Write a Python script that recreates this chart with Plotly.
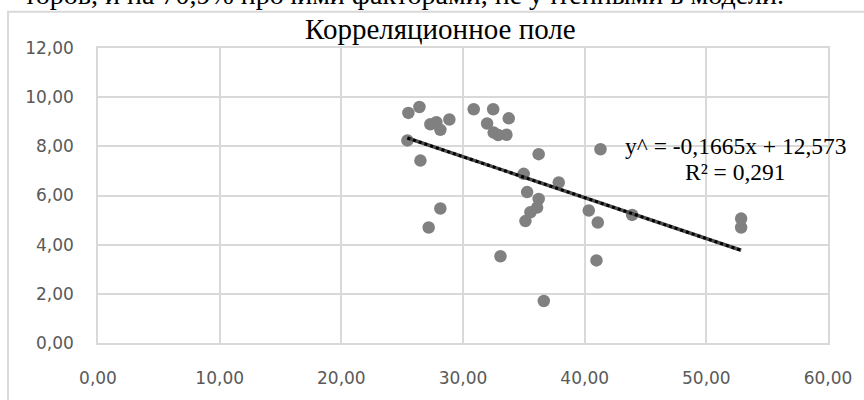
import plotly.graph_objects as go

# ---- data ----
x_values = [25.51, 26.42, 25.43, 26.50, 27.32, 27.81, 28.14, 28.88, 30.88, 32.48,
            33.76, 31.98, 32.52, 32.89, 33.57, 36.22, 41.30, 34.99, 37.87, 35.27,
            36.22, 36.09, 35.54, 35.13, 28.14, 27.18, 40.34, 41.08, 43.90, 33.08,
            40.97, 36.64, 52.86, 52.86]
y_values = [9.36, 9.60, 8.24, 7.42, 8.90, 8.98, 8.67, 9.09, 9.51, 9.51,
            9.14, 8.93, 8.56, 8.46, 8.47, 7.68, 7.88, 6.88, 6.53, 6.14,
            5.86, 5.51, 5.32, 4.96, 5.47, 4.70, 5.39, 4.90, 5.21, 3.53,
            3.36, 1.71, 5.06, 4.70]
slope = -0.1665
intercept = 12.573
r_squared = 0.291
x_ticks = [0, 10, 20, 30, 40, 50, 60]
y_ticks = [0, 2, 4, 6, 8, 10, 12]
x_tick_labels = ["0,00", "10,00", "20,00", "30,00", "40,00", "50,00", "60,00"]
y_tick_labels = ["0,00", "2,00", "4,00", "6,00", "8,00", "10,00", "12,00"]
title_text = "Корреляционное поле"
doc_text = "торов, и на 70,9% прочими факторами, не учтенными в модели."

# ---- layout geometry (pixels) ----
W, H = 864, 400
ML, MR, MT, MB = 98, 36, 48, 43
PW, PH = W - ML - MR, H - MT - MB


def px_to_paper_x(px):
    return (px - ML) / PW


def px_to_paper_y(py):
    return (H - MB - py) / PH


trend_x = [min(x_values), max(x_values)]
trend_y = [slope * v + intercept for v in trend_x]

fig = go.Figure()

fig.add_trace(go.Scatter(
    x=x_values, y=y_values, mode="markers",
    marker=dict(color="#808080", size=12.5, line=dict(width=0)),
    showlegend=False, hoverinfo="x+y",
))

fig.add_trace(go.Scatter(
    x=trend_x, y=trend_y, mode="lines",
    line=dict(color="#4d4d4d", width=3.5),
    showlegend=False, hoverinfo="skip",
))
fig.add_trace(go.Scatter(
    x=trend_x, y=trend_y, mode="lines",
    line=dict(color="#000000", width=3, dash="dot"),
    showlegend=False, hoverinfo="skip",
))

grid_color = "#d9d9d9"
axis_common = dict(
    showgrid=True, gridcolor=grid_color, gridwidth=1.5,
    zeroline=False, showline=True, linecolor=grid_color, linewidth=1.5,
    mirror=True, ticks="outside", tickcolor="rgba(0,0,0,0)",
    tickfont=dict(family="DejaVu Sans", size=17, color="#595959"),
    fixedrange=True,
)

fig.update_xaxes(range=[0, 60], tickvals=x_ticks, ticktext=x_tick_labels,
                 ticklen=19, **axis_common)
fig.update_yaxes(range=[0, 12], tickvals=y_ticks, ticktext=y_tick_labels,
                 ticklen=19, **axis_common)

eq_text = "y^ = " + f"{slope:.4f}".replace(".", ",") + "x + " + f"{intercept:.3f}".replace(".", ",")
r2_text = "R² = " + f"{r_squared:.3f}".replace(".", ",")

annotations = [
    dict(text=title_text, x=px_to_paper_x(440), y=px_to_paper_y(28),
         xref="paper", yref="paper", xanchor="center", yanchor="middle",
         showarrow=False,
         font=dict(family="Liberation Serif", size=29, color="#000000")),
    dict(text=doc_text, x=px_to_paper_x(786), y=px_to_paper_y(-8),
         xref="paper", yref="paper", xanchor="right", yanchor="middle",
         showarrow=False,
         font=dict(family="Liberation Serif", size=28, color="#000000")),
    dict(text=eq_text, x=px_to_paper_x(736), y=px_to_paper_y(151),
         xref="paper", yref="paper", xanchor="center", yanchor="middle",
         showarrow=False,
         font=dict(family="Liberation Serif", size=23.5, color="#000000")),
    dict(text=r2_text, x=px_to_paper_x(735), y=px_to_paper_y(178),
         xref="paper", yref="paper", xanchor="center", yanchor="middle",
         showarrow=False,
         font=dict(family="Liberation Serif", size=23.5, color="#000000")),
]

shapes = [
    dict(type="rect", xref="paper", yref="paper",
         x0=px_to_paper_x(8), x1=px_to_paper_x(W + 20),
         y0=px_to_paper_y(H + 20), y1=px_to_paper_y(10),
         line=dict(color=grid_color, width=2), fillcolor="rgba(0,0,0,0)",
         layer="below"),
]

fig.update_layout(
    width=W, height=H,
    margin=dict(l=ML, r=MR, t=MT, b=MB, pad=0),
    paper_bgcolor="#ffffff", plot_bgcolor="#ffffff",
    annotations=annotations, shapes=shapes,
    showlegend=False,
)

fig.write_html(
    "out.html",
    config={"displayModeBar": False},
    post_script="document.body.style.margin='0';document.body.style.overflow='hidden';",
)
